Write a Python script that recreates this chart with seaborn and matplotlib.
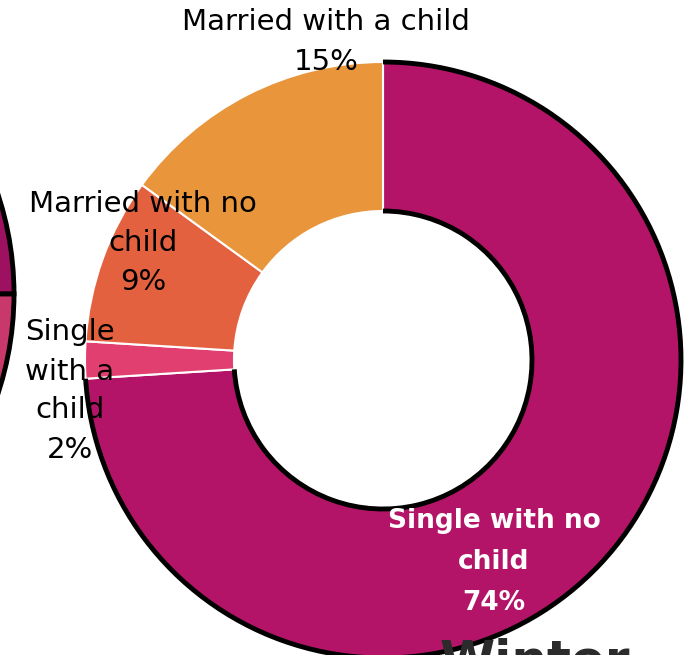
import matplotlib
matplotlib.use("Agg")
import matplotlib.pyplot as plt
import seaborn as sns
from matplotlib.patches import Arc, Wedge

# Household composition shares (percent), clockwise from 12 o'clock
categories = ["Single with no child", "Single with a child",
              "Married with no child", "Married with a child"]
shares = [74, 2, 9, 15]
label_text = ["Single with no\nchild", "Single\nwith a\nchild",
              "Married with no\nchild", "Married with a child"]
palette = ["#B41467", "#E13F70", "#E4613F", "#E9953B"]

sns.set_theme(style="white")
plt.rcParams["font.family"] = ["DejaVu Sans"]

fig = plt.figure(figsize=(6.87, 6.55), dpi=100)
ax = fig.add_axes([0, 0, 1, 1])

cx, cy = 383, 295
R, W = 298, 149

# neighbouring chart peeking in from the left edge
for t1, t2, col in [(0, 180, "#9E1160"), (180, 360, "#C8386A")]:
    ax.add_patch(Wedge((-304, 361), 318, t1, t2, facecolor=col,
                       edgecolor="black", linewidth=3.5))

wedges, _ = ax.pie(shares, colors=palette, startangle=90, counterclock=False,
                   radius=R, center=(cx, cy),
                   wedgeprops=dict(width=W, edgecolor="white", linewidth=1.5))

# dark outline on the dominant segment's arcs
w0 = wedges[0]
for rad in (R, R - W):
    ax.add_patch(Arc((cx, cy), 2 * rad, 2 * rad, theta1=w0.theta1, theta2=w0.theta2,
                     color="black", linewidth=3.5, zorder=5))

pcts = [f"{v}%" for v in shares]
ax.text(494, 93, f"{label_text[0]}\n{pcts[0]}", ha="center", va="center",
        color="white", fontsize=19, fontweight="bold", linespacing=1.75, zorder=6)
ax.text(70, 264, f"{label_text[1]}\n{pcts[1]}", ha="center", va="center",
        color="black", fontsize=21, linespacing=1.5, zorder=6)
ax.text(143, 412, f"{label_text[2]}\n{pcts[2]}", ha="center", va="center",
        color="black", fontsize=21, linespacing=1.5, zorder=6)
ax.text(326, 613, f"{label_text[3]}\n{pcts[3]}", ha="center", va="center",
        color="black", fontsize=21, linespacing=1.5, zorder=6)

# heading of the next panel, cut off by the bottom edge
ax.text(440, 17, "Winter", ha="left", va="top", color="#2B2B2B",
        fontsize=36, fontweight="bold", zorder=6)

ax.set_xlim(0, 687)
ax.set_ylim(0, 655)
ax.set_aspect("equal")
ax.axis("off")

fig.savefig("out.png", dpi=100)
